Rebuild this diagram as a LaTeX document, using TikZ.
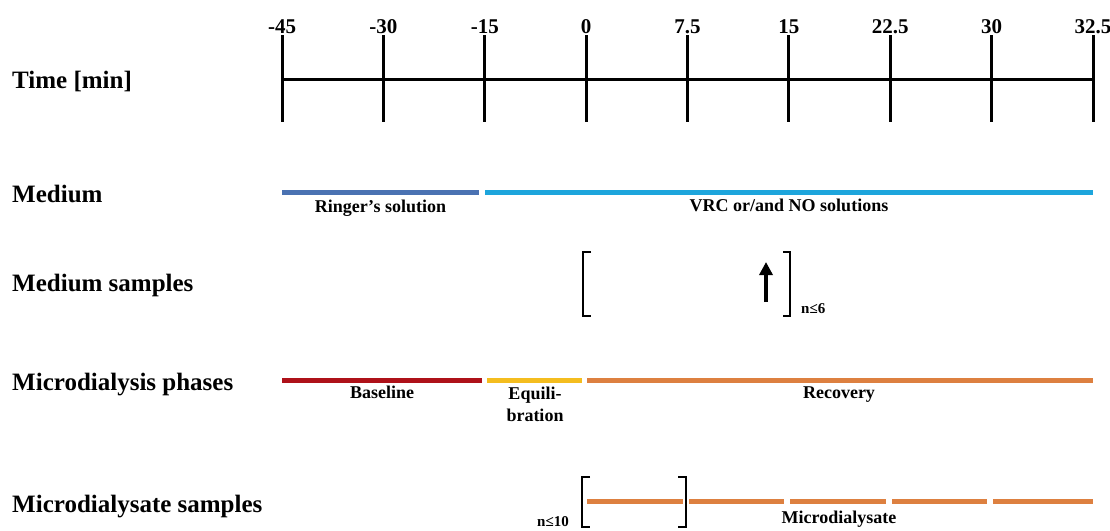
\documentclass[tikz,border=0pt]{standalone}
\usepackage{fontspec}
\setmainfont{Liberation Serif}
\usetikzlibrary{arrows.meta}
\definecolor{ringer}{HTML}{4A72B2}
\definecolor{vrc}{HTML}{1DA5DC}
\definecolor{basecol}{HTML}{AE1119}
\definecolor{equicol}{HTML}{F4BD1F}
\definecolor{reccol}{HTML}{DD8040}
\begin{document}
\begin{tikzpicture}[x=1pt,y=-1pt,
 rowlabel/.style={anchor=base west, font=\fontsize{25}{30}\selectfont\bfseries, inner sep=0},
 ticklabel/.style={anchor=base, font=\fontsize{21}{25}\selectfont\bfseries, inner sep=0},
 smalllabel/.style={anchor=base, font=\fontsize{18}{22}\selectfont\bfseries, inner sep=0},
 nlabel/.style={anchor=base west, font=\fontsize{15}{18}\selectfont\bfseries, inner sep=0},
 axisline/.style={line width=3pt, black},
 bar/.style={line width=5pt},
 brk/.style={line width=2.5pt, black},
 uparrow/.style={line width=4pt, -{Triangle[length=13pt,width=13pt]}}]
\useasboundingbox (0,0) rectangle (1110,530);

% row labels
\node[rowlabel] (rtime) at (12,88) {Time [min]};
\node[rowlabel] (rmed) at (12,202) {Medium};
\node[rowlabel] (rmeds) at (12,291) {Medium samples};
\node[rowlabel] (rphase) at (12,390) {Microdialysis phases};
\node[rowlabel] (rdial) at (12,512) {Microdialysate samples};

% time axis
\coordinate (axL) at (282,79);
\coordinate (axR) at (1093,79);
\draw[axisline] (axL) -- (axR);
\foreach \v [count=\i from 0] in {-45,-30,-15,0,7.5,15,22.5,30,32.5} {
  \pgfmathsetmacro\xx{282+\i*101.375}
  \draw[axisline] (\xx,35) -- (\xx,122);
  \node[ticklabel] (tl\i) at (\xx,33) {\v};
}

% medium
\draw[bar, ringer] (282,192) -- (479,192);
\draw[bar, vrc] (485,192) -- (1093,192);
\node[smalllabel] (ringerlab) at (380.5,212) {Ringer’s solution};
\node[smalllabel] (vrclab) at (789,211) {VRC or/and NO solutions};

% medium samples
\draw[brk] (591,252) -- (583,252) -- (583,316) -- (591,316);
\draw[brk] (783,252) -- (790,252) -- (790,316) -- (783,316);
\coordinate (arrS) at (766,302);
\coordinate (arrE) at (766,262);
\draw[uparrow] (arrS) -- (arrE);
\node[nlabel] (n6) at (801,313) {n≤6};

% microdialysis phases
\draw[bar, basecol] (282,380) -- (482,380);
\draw[bar, equicol] (487,380) -- (582,380);
\draw[bar, reccol] (587,380) -- (1093,380);
\node[smalllabel] (baselab) at (382,398) {Baseline};
\node[smalllabel] (equi1) at (535,399) {Equili-};
\node[smalllabel] (equi2) at (535,421) {bration};
\node[smalllabel] (reclab) at (839,398) {Recovery};

% microdialysate samples
\foreach \a/\b in {587/683, 689/784, 790/886, 892/987, 993/1093} {
  \draw[bar, reccol] (\a,501) -- (\b,501);
}
\draw[brk] (590,477) -- (582,477) -- (582,527) -- (590,527);
\draw[brk] (678,477) -- (686,477) -- (686,527) -- (678,527);
\node[nlabel] (n10) at (537,526) {n≤10};
\node[smalllabel] (dialab) at (839,523) {Microdialysate};
\end{tikzpicture}
\end{document}
